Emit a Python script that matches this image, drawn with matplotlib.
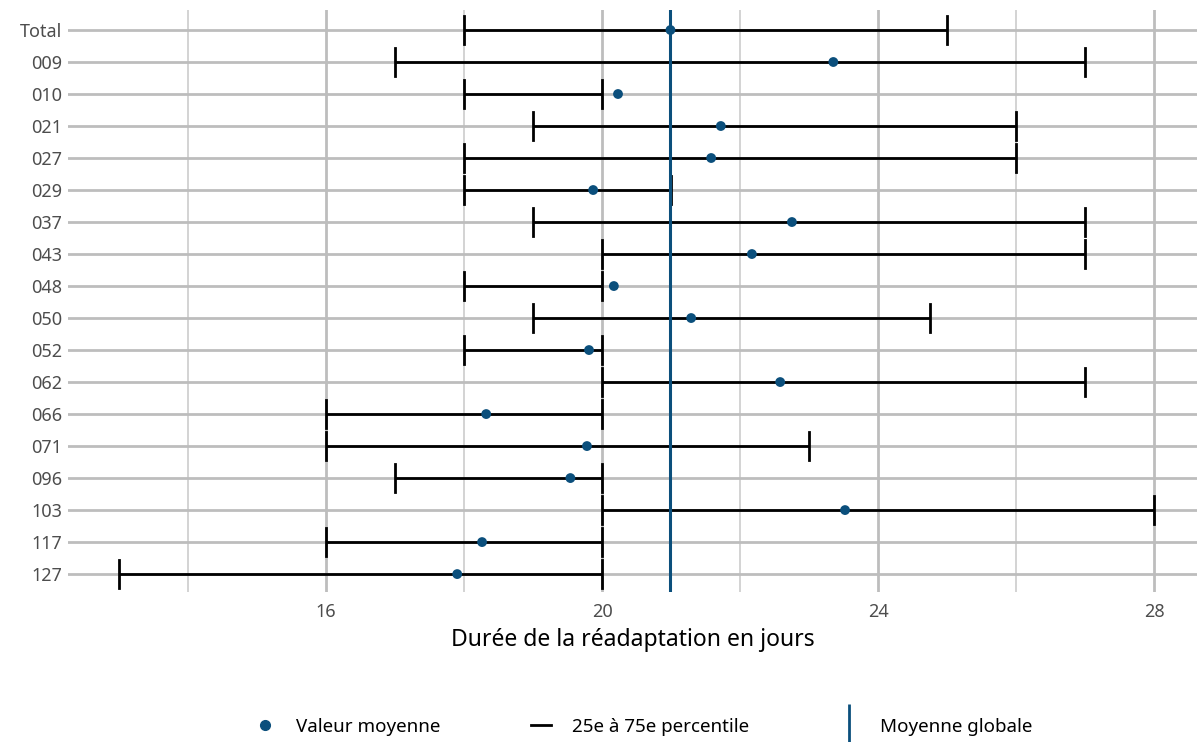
import matplotlib
matplotlib.use("Agg")
import matplotlib.pyplot as plt
from matplotlib.lines import Line2D

categories = ["Total", "009", "010", "021", "027", "029", "037", "043", "048",
              "050", "052", "062", "066", "071", "096", "103", "117", "127"]
p25 = [18, 17, 18, 19, 18, 18, 19, 20, 18, 19, 18, 20, 16, 16, 17, 20, 16, 13]
p75 = [25, 27, 20, 26, 26, 21, 27, 27, 20, 24.75, 20, 27, 20, 23, 20, 28, 20, 20]
means = [20.99, 23.35, 20.23, 21.72, 21.58, 19.87, 22.75, 22.17, 20.17,
         21.29, 19.81, 22.58, 18.32, 19.78, 19.54, 23.52, 18.26, 17.9]
global_mean = 20.99

plt.rcParams['font.family'] = ['Noto Sans', 'DejaVu Sans']
blue = "#0b4f7c"

fig = plt.figure(figsize=(11.97, 7.42), dpi=100)
ax = fig.add_axes([68/1197, 1-592/742, 1-68/1197, (592-10)/742])

y = list(range(len(categories)))
ax.set_xlim(12.26, 28.62)
ax.set_ylim(17.56, -0.625)

# grid
for v in [16, 20, 24, 28]:
    ax.axvline(v, color="#bdbdbd", lw=2, zorder=0)
for v in [14, 18, 22, 26]:
    ax.axvline(v, color="#c8c8c8", lw=1.1, zorder=0)
for yy in y:
    ax.axhline(yy, color="#bdbdbd", lw=2, zorder=0)

# error bars
for yy, lo, hi in zip(y, p25, p75):
    ax.plot([lo, hi], [yy, yy], color="black", lw=2, zorder=2, solid_capstyle='butt')
    ax.plot([lo, lo], [yy - 0.44, yy + 0.44], color="black", lw=2, zorder=2)
    ax.plot([hi, hi], [yy - 0.44, yy + 0.44], color="black", lw=2, zorder=2)

ax.axvline(global_mean, color=blue, lw=2.2, zorder=3)
ax.scatter(means, y, s=50, color=blue, zorder=4, edgecolors='none')

ax.set_yticks(y)
ax.set_yticklabels(categories)
ax.set_xticks([16, 20, 24, 28])
ax.set_xticklabels(["16", "20", "24", "28"])
ax.tick_params(axis='both', length=0, labelsize=13, labelcolor="#4d4d4d", pad=4)
ax.tick_params(axis='x', pad=8)
for s in ax.spines.values():
    s.set_visible(False)
ax.set_xlabel("Durée de la réadaptation en jours", fontsize=16.5, color="black", labelpad=5)

handles = [
    Line2D([], [], marker='o', linestyle='None', color=blue, markersize=7),
    Line2D([], [], color="black", lw=2),
    Line2D([], [], marker='|', linestyle='None', color=blue, markersize=30, markeredgewidth=2),
]
labels = ["Valeur moyenne", "25e à 75e percentile", "Moyenne globale"]
fig.legend(handles, labels, loc='center', bbox_to_anchor=(0.538, 1-727/742), ncol=3,
           frameon=False, fontsize=13.5, handlelength=1.1, columnspacing=4.8, handletextpad=1.1)

fig.savefig("out.png", dpi=100)
